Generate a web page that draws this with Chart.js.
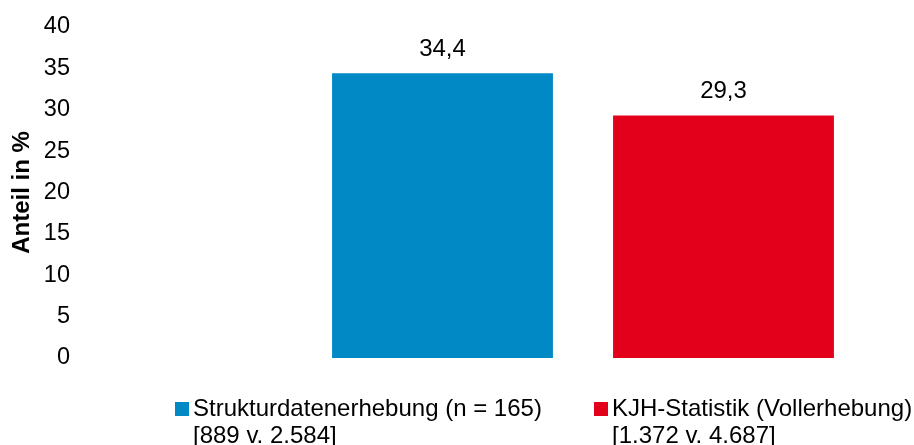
<!DOCTYPE html>
<html>
<head>
<meta charset="utf-8">
<script src="https://cdn.jsdelivr.net/npm/chart.js@4"></script>
<style>
  html, body { margin: 0; padding: 0; background: #fff; }
  #wrap { width: 914px; height: 445px; position: relative; }
</style>
</head>
<body>
<div id="wrap"><canvas id="chart"></canvas></div>
<script>
// data
let categories = ['Strukturdatenerhebung', 'KJH-Statistik'];
let seriesNames = [
  ['Strukturdatenerhebung (n = 165)', '[889 v. 2.584]'],
  ['KJH-Statistik (Vollerhebung)', '[1.372 v. 4.687]']
];
let strukturValues = [34.4, null];
let kjhValues = [null, 29.3];
let yTicks = [0, 5, 10, 15, 20, 25, 30, 35, 40];
let yTitle = 'Anteil in %';

let fontFamily = "'Liberation Sans', Arial, sans-serif";

// value labels above bars
let valueLabels = {
  id: 'valueLabels',
  afterDatasetsDraw(chart) {
    let ctx = chart.ctx;
    ctx.save();
    ctx.font = '24px ' + fontFamily;
    ctx.fillStyle = '#000';
    ctx.textAlign = 'center';
    ctx.textBaseline = 'middle';
    chart.data.datasets.forEach((ds, i) => {
      chart.getDatasetMeta(i).data.forEach((bar, j) => {
        let v = ds.data[j];
        if (v == null) return;
        ctx.fillText(v.toFixed(1).replace('.', ','), bar.x, bar.y - 24);
      });
    });
    ctx.restore();
  }
};

// two-line legend under the chart
let twoLineLegend = {
  id: 'twoLineLegend',
  afterDraw(chart) {
    let ctx = chart.ctx;
    let starts = [175, 594];
    ctx.save();
    ctx.font = '24px ' + fontFamily;
    ctx.textBaseline = 'middle';
    ctx.textAlign = 'left';
    chart.data.datasets.forEach((ds, i) => {
      let x = starts[i];
      ctx.fillStyle = ds.backgroundColor;
      ctx.fillRect(x, 402, 14, 14);
      ctx.fillStyle = '#000';
      ds.label.forEach((line, k) => {
        ctx.fillText(line, x + 18, 409 + k * 27);
      });
    });
    ctx.restore();
  }
};

let chartCanv = document.getElementById('chart').getContext('2d');

let chart = new Chart(chartCanv, {
  type: 'bar',
  plugins: [valueLabels, twoLineLegend],
  data: {
    labels: categories,
    datasets: [
      {
        label: seriesNames[0],
        data: strukturValues,
        backgroundColor: '#0089C4'
      },
      {
        label: seriesNames[1],
        data: kjhValues,
        backgroundColor: '#E3001B'
      }
    ]
  },
  options: {
    responsive: true,
    maintainAspectRatio: false,
    animation: false,
    categoryPercentage: 1,
    barPercentage: 0.786,
    layout: { padding: { top: 27, right: 50, bottom: 87, left: 0 } },
    plugins: {
      legend: { display: false },
      tooltip: { enabled: false }
    },
    scales: {
      x: {
        stacked: true,
        display: false
      },
      y: {
        min: 0,
        max: 40,
        afterBuildTicks(scale) {
          scale.ticks = yTicks.map(v => ({ value: v }));
        },
        afterFit(scale) {
          scale.width = 302;
          scale.paddingTop = 0;
          scale.paddingBottom = 0;
        },
        grid: { display: false, drawTicks: false },
        border: { display: false },
        ticks: {
          padding: 232,
          color: '#000',
          font: { size: 23.5, family: fontFamily }
        },
        title: {
          display: true,
          text: yTitle,
          color: '#000',
          padding: { top: 8, bottom: 0 },
          font: { size: 24, weight: 'bold', family: fontFamily }
        }
      }
    }
  }
});
</script>
</body>
</html>
